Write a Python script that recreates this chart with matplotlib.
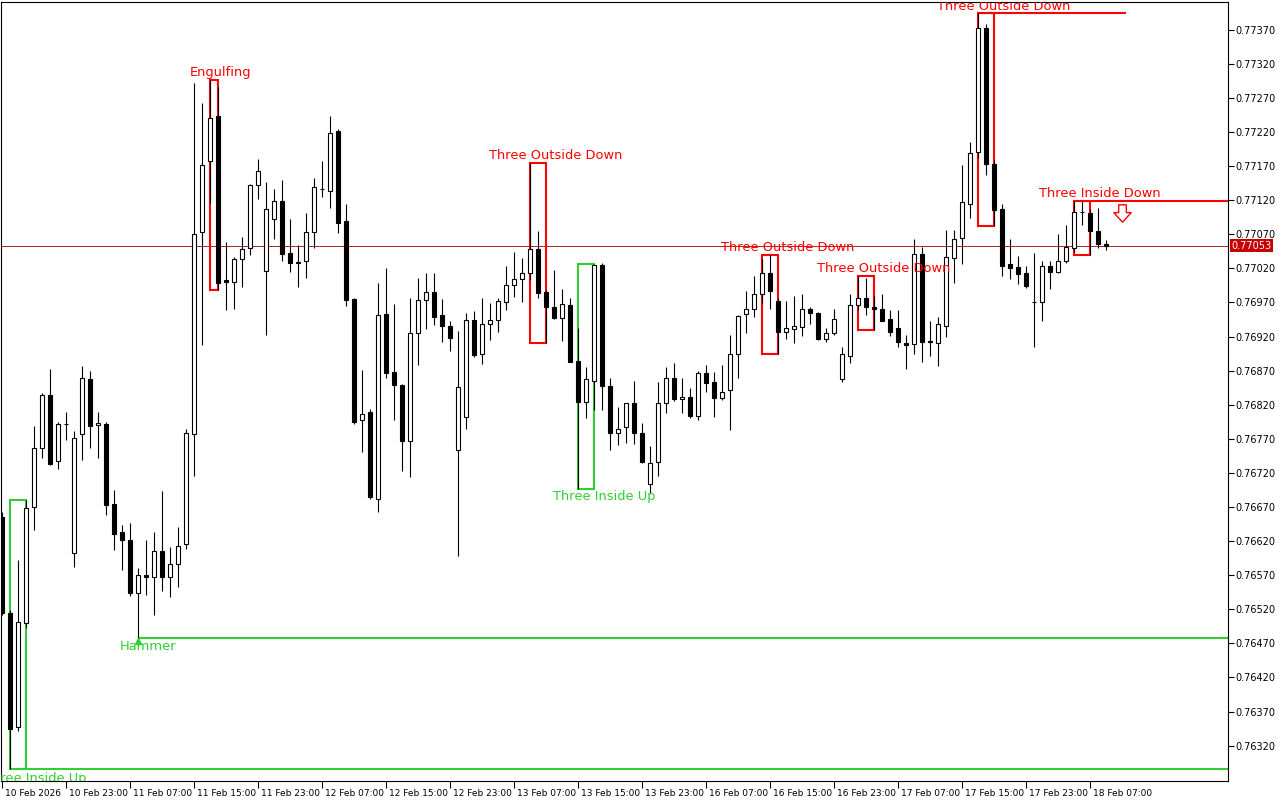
import numpy as np
import matplotlib
matplotlib.use("Agg")
import matplotlib.pyplot as plt
import matplotlib.transforms as mtransforms
from matplotlib.patches import Rectangle
from matplotlib.path import Path

# H1 bars, 10 Feb 15:00 .. 18 Feb 09:00
opens = [0.76656, 0.76514, 0.76347, 0.76500, 0.76670, 0.76756, 0.76834, 0.76737, 0.76791, 0.76603,
         0.76777, 0.76857, 0.76790, 0.76792, 0.76674, 0.76633, 0.76621, 0.76544, 0.76570, 0.76568,
         0.76606, 0.76567, 0.76586, 0.76615, 0.76777, 0.77073, 0.77177, 0.77244, 0.77003, 0.77000,
         0.77033, 0.77050, 0.77142, 0.77016, 0.77093, 0.77119, 0.77042, 0.77029, 0.77030, 0.77073,
         0.77136, 0.77134, 0.77221, 0.77089, 0.76975, 0.76798, 0.76809, 0.76681, 0.76953, 0.76868,
         0.76849, 0.76767, 0.76925, 0.76973, 0.76985, 0.76952, 0.76935, 0.76753, 0.76802, 0.76944,
         0.76895, 0.76938, 0.76944, 0.76970, 0.76995, 0.77004, 0.77013, 0.77048, 0.76985, 0.76963,
         0.76947, 0.76966, 0.76884, 0.76824, 0.76855, 0.77025, 0.76847, 0.76778, 0.76787, 0.76822,
         0.76778, 0.76704, 0.76736, 0.76822, 0.76859, 0.76828, 0.76831, 0.76804, 0.76866, 0.76853,
         0.76830, 0.76841, 0.76895, 0.76953, 0.76960, 0.76982, 0.77013, 0.76972, 0.76926, 0.76931,
         0.76934, 0.76961, 0.76955, 0.76916, 0.76925, 0.76857, 0.76892, 0.76966, 0.76976, 0.76963,
         0.76960, 0.76946, 0.76932, 0.76910, 0.76909, 0.77041, 0.76913, 0.76910, 0.76936, 0.77035,
         0.77065, 0.77115, 0.77191, 0.77373, 0.77173, 0.77107, 0.77026, 0.77022, 0.77013, 0.76971,
         0.76970, 0.77023, 0.77014, 0.77031, 0.77050, 0.77103, 0.77101, 0.77074, 0.77055]
highs = [0.76663, 0.76519, 0.76592, 0.76680, 0.76789, 0.76837, 0.76872, 0.76794, 0.76809, 0.76781,
         0.76877, 0.76869, 0.76809, 0.76794, 0.76695, 0.76644, 0.76646, 0.76581, 0.76621, 0.76633,
         0.76693, 0.76611, 0.76641, 0.76785, 0.77292, 0.77262, 0.77296, 0.77286, 0.77059, 0.77036,
         0.77066, 0.77144, 0.77181, 0.77146, 0.77136, 0.77150, 0.77092, 0.77054, 0.77101, 0.77152,
         0.77177, 0.77243, 0.77224, 0.77115, 0.76976, 0.76871, 0.76814, 0.76998, 0.77020, 0.76968,
         0.76851, 0.76976, 0.77006, 0.77013, 0.77013, 0.76975, 0.76942, 0.76928, 0.76954, 0.76957,
         0.76976, 0.76969, 0.76976, 0.77023, 0.77044, 0.77035, 0.77174, 0.77075, 0.76988, 0.77017,
         0.76989, 0.76976, 0.76932, 0.76875, 0.77027, 0.77028, 0.76859, 0.76816, 0.76823, 0.76855,
         0.76793, 0.76759, 0.76853, 0.76876, 0.76881, 0.76859, 0.76844, 0.76870, 0.76878, 0.76868,
         0.76878, 0.76922, 0.76952, 0.76987, 0.77009, 0.77033, 0.77040, 0.76976, 0.76972, 0.76979,
         0.76982, 0.76963, 0.76956, 0.76932, 0.76960, 0.76904, 0.76982, 0.77008, 0.77006, 0.76979,
         0.76983, 0.76959, 0.76959, 0.76922, 0.77063, 0.77051, 0.76943, 0.76948, 0.77076, 0.77076,
         0.77172, 0.77205, 0.77394, 0.77378, 0.77179, 0.77114, 0.77063, 0.77038, 0.77023, 0.77042,
         0.77030, 0.77031, 0.77070, 0.77084, 0.77119, 0.77119, 0.77107, 0.77108, 0.77062]
lows = [0.76512, 0.76286, 0.76341, 0.76493, 0.76636, 0.76742, 0.76732, 0.76726, 0.76768, 0.76582,
        0.76739, 0.76757, 0.76742, 0.76658, 0.76607, 0.76577, 0.76539, 0.76478, 0.76541, 0.76511,
        0.76547, 0.76538, 0.76553, 0.76609, 0.76715, 0.76907, 0.77116, 0.76988, 0.76959, 0.76961,
        0.76993, 0.77040, 0.77122, 0.76922, 0.77063, 0.77030, 0.77014, 0.76993, 0.77006, 0.77050,
        0.77124, 0.77109, 0.77072, 0.76964, 0.76792, 0.76751, 0.76681, 0.76663, 0.76859, 0.76797,
        0.76723, 0.76714, 0.76878, 0.76931, 0.76937, 0.76912, 0.76899, 0.76598, 0.76785, 0.76890,
        0.76880, 0.76915, 0.76926, 0.76959, 0.76978, 0.76971, 0.77003, 0.76976, 0.76911, 0.76945,
        0.76914, 0.76882, 0.76696, 0.76801, 0.76812, 0.76812, 0.76753, 0.76761, 0.76764, 0.76762,
        0.76734, 0.76691, 0.76715, 0.76808, 0.76826, 0.76808, 0.76800, 0.76797, 0.76838, 0.76802,
        0.76827, 0.76783, 0.76859, 0.76925, 0.76948, 0.76969, 0.76960, 0.76894, 0.76917, 0.76910,
        0.76921, 0.76938, 0.76915, 0.76912, 0.76922, 0.76854, 0.76881, 0.76959, 0.76952, 0.76929,
        0.76942, 0.76921, 0.76905, 0.76872, 0.76895, 0.76883, 0.76891, 0.76877, 0.76919, 0.76999,
        0.77027, 0.77094, 0.77182, 0.77157, 0.77082, 0.77009, 0.77004, 0.76997, 0.76991, 0.76905,
        0.76943, 0.76990, 0.77013, 0.77028, 0.77044, 0.77084, 0.77040, 0.77050, 0.77047]
closes = [0.76515, 0.76344, 0.76501, 0.76668, 0.76756, 0.76834, 0.76733, 0.76791, 0.76792, 0.76771,
          0.76859, 0.76789, 0.76793, 0.76673, 0.76631, 0.76621, 0.76544, 0.76570, 0.76567, 0.76606,
          0.76567, 0.76586, 0.76613, 0.76778, 0.77070, 0.77172, 0.77241, 0.76999, 0.77000, 0.77033,
          0.77048, 0.77142, 0.77162, 0.77107, 0.77118, 0.77041, 0.77028, 0.77028, 0.77073, 0.77139,
          0.77137, 0.77219, 0.77087, 0.76973, 0.76795, 0.76807, 0.76684, 0.76951, 0.76867, 0.76849,
          0.76767, 0.76925, 0.76973, 0.76985, 0.76949, 0.76936, 0.76918, 0.76846, 0.76944, 0.76893,
          0.76939, 0.76944, 0.76972, 0.76995, 0.77004, 0.77013, 0.77048, 0.76984, 0.76963, 0.76947,
          0.76967, 0.76883, 0.76824, 0.76857, 0.77025, 0.76848, 0.76779, 0.76784, 0.76822, 0.76778,
          0.76736, 0.76734, 0.76822, 0.76859, 0.76828, 0.76831, 0.76804, 0.76866, 0.76852, 0.76830,
          0.76839, 0.76894, 0.76950, 0.76960, 0.76983, 0.77013, 0.76986, 0.76926, 0.76932, 0.76936,
          0.76961, 0.76954, 0.76916, 0.76925, 0.76945, 0.76894, 0.76966, 0.76976, 0.76963, 0.76961,
          0.76943, 0.76927, 0.76912, 0.76907, 0.77041, 0.76912, 0.76912, 0.76938, 0.77036, 0.77063,
          0.77117, 0.77189, 0.77373, 0.77173, 0.77106, 0.77024, 0.77020, 0.77012, 0.76994, 0.76970,
          0.77023, 0.77015, 0.77030, 0.77051, 0.77102, 0.77102, 0.77074, 0.77055, 0.77053]

time_ticks = [0, 8, 16, 24, 32, 40, 48, 56, 64, 72, 80, 88, 96, 104, 112, 120, 128, 136]
time_labels = ["10 Feb 2026", "10 Feb 23:00", "11 Feb 07:00", "11 Feb 15:00", "11 Feb 23:00",
               "12 Feb 07:00", "12 Feb 15:00", "12 Feb 23:00", "13 Feb 07:00", "13 Feb 15:00",
               "13 Feb 23:00", "16 Feb 07:00", "16 Feb 15:00", "16 Feb 23:00", "17 Feb 07:00",
               "17 Feb 15:00", "17 Feb 23:00", "18 Feb 07:00"]
price_ticks = [0.76320, 0.76370, 0.76420, 0.76470, 0.76520, 0.76570, 0.76620, 0.76670,
               0.76720, 0.76770, 0.76820, 0.76870, 0.76920, 0.76970, 0.77020, 0.77070,
               0.77120, 0.77170, 0.77220, 0.77270, 0.77320, 0.77370]
last_price = 0.77053

# candle patterns: name, first bar, last bar, bullish?
pat_names = ["Three Inside Up", "Engulfing", "Three Outside Down", "Three Inside Up",
             "Three Outside Down", "Three Outside Down", "Three Outside Down", "Three Inside Down"]
pat_start = [1, 26, 66, 72, 95, 107, 122, 134]
pat_end = [3, 27, 68, 74, 97, 109, 124, 136]
pat_bull = [True, False, False, True, False, False, False, False]
label_x = [4.1, 27.3, 69.2, 75.3, 98.2, 110.2, 125.2, 137.2]
label_y = [0.762712, 0.773078, 0.771847, 0.766847, 0.770512, 0.77019, 0.774046, 0.771304]

hammer_bar = 17
hammer_label = (18.2, 0.764647)
sell_arrow = (140, 0.771004)

RED = "#ff0000"
GREEN = "#32cd32"

fig = plt.figure(figsize=(12.8, 8), dpi=100)
ax = fig.add_axes([1 / 1280, 19 / 800, 1227 / 1280, 779 / 800])
xmax = 153.2
ax.set_xlim(-0.1625, xmax)
ax.set_ylim(0.762682, 0.774105)

o = np.array(opens); h = np.array(highs); l = np.array(lows); c = np.array(closes)
x = np.arange(len(o))

# pattern boxes (under candles)
for s, e, bull in zip(pat_start, pat_end, pat_bull):
    hi = h[s:e + 1].max()
    lo = l[s:e + 1].min()
    col = GREEN if bull else RED
    ax.add_patch(Rectangle((s, lo), e - s, hi - lo, fill=False, ec=col, lw=1.5, zorder=1.5))

# support / resistance lines
ax.hlines(l[1], 1, xmax, color=GREEN, lw=1.5, zorder=1.5)
ax.hlines(l[hammer_bar], hammer_bar, xmax, color=GREEN, lw=1.5, zorder=1.5)
ax.hlines(h[122:125].max(), 122, 140.5, color=RED, lw=1.5, zorder=1.5)
ax.hlines(h[134:137].max(), 134, xmax, color=RED, lw=1.5, zorder=1.5)

ax.axhline(last_price, color="#a00000", lw=0.6, zorder=1)

# candles
ax.vlines(x, l, h, color="black", lw=0.8, zorder=2)
cols = ["white" if cc >= oo else "black" for oo, cc in zip(o, c)]
ax.bar(x, np.abs(c - o), 0.5, bottom=np.minimum(o, c), color=cols,
       edgecolor="black", linewidth=0.8, zorder=3)

for name, lx, ly, bull in zip(pat_names, label_x, label_y, pat_bull):
    ax.text(lx, ly, name, color=GREEN if bull else RED, fontsize=9.4,
            ha="center", va="center", clip_on=True, zorder=5)
ax.text(hammer_label[0], hammer_label[1], "Hammer", color=GREEN, fontsize=9.4,
        ha="center", va="center", clip_on=True, zorder=5)
ax.plot(hammer_bar, l[hammer_bar] - 0.00005, marker="^", ms=4, color=GREEN, zorder=5)

arrow = Path([(-0.22, 0.5), (0.22, 0.5), (0.22, 0.05), (0.5, 0.05), (0, -0.5),
              (-0.5, 0.05), (-0.22, 0.05), (-0.22, 0.5)], closed=True)
ax.plot(sell_arrow[0], sell_arrow[1], marker=arrow, ms=12.5, mfc="white",
        mec=RED, mew=1.0, zorder=5, clip_on=False)

# axes styling
for sp in ax.spines.values():
    sp.set_color("black")
    sp.set_linewidth(0.8)

ax.yaxis.tick_right()
ax.set_yticks(price_ticks)
ax.set_yticklabels(["%.5f" % p for p in price_ticks])
ax.tick_params(axis="y", direction="out", length=4, width=0.8, pad=1, labelsize=7)

ax.set_xticks(time_ticks)
ax.set_xticklabels(time_labels, ha="left", fontsize=6.5)
ax.tick_params(axis="x", direction="out", length=5, width=0.8, pad=1)
off = mtransforms.ScaledTranslation(2 / 72, 0, fig.dpi_scale_trans)
for lbl in ax.get_xticklabels():
    lbl.set_transform(lbl.get_transform() + off)

trans = mtransforms.blended_transform_factory(ax.transAxes, ax.transData)
ax.text(1.0 + 3 / 1227, last_price, "%.5f" % last_price, transform=trans, color="white",
        fontsize=7, ha="left", va="center",
        bbox=dict(boxstyle="square,pad=0.15", fc="#c80000", ec="none"), zorder=6)

fig.savefig("out.png", dpi=100)
